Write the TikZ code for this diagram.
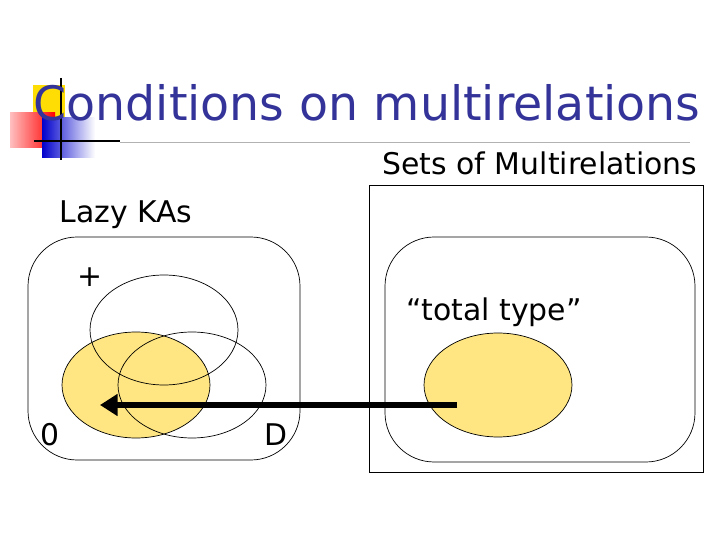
\documentclass[tikz,border=0pt]{standalone}
\usepackage{fontspec}
\setmainfont{DejaVu Sans}
\usetikzlibrary{arrows.meta,positioning,shapes.geometric}
\definecolor{titleblue}{RGB}{51,51,153}
\definecolor{setyellow}{RGB}{255,230,130}
\tikzset{setbox/.style={draw,thin,rounded corners=28pt},
         txt/.style={font=\fontsize{17}{20}\selectfont}}
\begin{document}
\begin{tikzpicture}[x=0.02cm,y=-0.02cm]
\useasboundingbox (0,0) rectangle (720,540);

% logo
\fill[yellow!80!orange] (33,85) rectangle (65,118);
\shade[left color=red!25!white,right color=red] (10,113) rectangle (55,148);
\shade[left color=blue!80!black,right color=white] (42,118) rectangle (95,158);
\draw[thick] (61,78) -- (61,160);
\draw[thick] (34,141) -- (120,141);
\draw[gray!60] (120,142) -- (690,142);

\node[font=\fontsize{27}{30}\selectfont,text=titleblue] (title) at (367,103) {Conditions on multirelations};
\node[txt] (setslbl) at (540,163) {Sets of Multirelations};

% right side
\draw[thin] (369,185) rectangle (703,472);
\draw[setbox] (385,237) rectangle (695,462);
\node[txt] (total) at (494,312) {“total type”};
\node[ellipse,draw,thin,fill=setyellow,minimum width=2.96cm,minimum height=2.08cm,inner sep=0] (tt) at (498,385) {};

% left side
\node[txt] (lazy) at (126,215) {Lazy KAs};
\draw[setbox] (28,237) rectangle (300,460);
\fill[setyellow] (136,385) ellipse [x radius=74,y radius=53];
\draw[thin] (164,330) ellipse [x radius=74,y radius=55];
\draw[thin] (136,385) ellipse [x radius=74,y radius=53];
\draw[thin] (192,385) ellipse [x radius=74,y radius=53];
\coordinate (zero) at (100,405);
\node[txt] (plus) at (90,277) {+};
\node[txt] (zl) at (50,435) {0};
\node[txt] (dl) at (276,435) {D};

\draw[line width=3pt,-{Triangle[length=10pt,width=12pt]}] (457,405) -- (zero);
\end{tikzpicture}
\end{document}
